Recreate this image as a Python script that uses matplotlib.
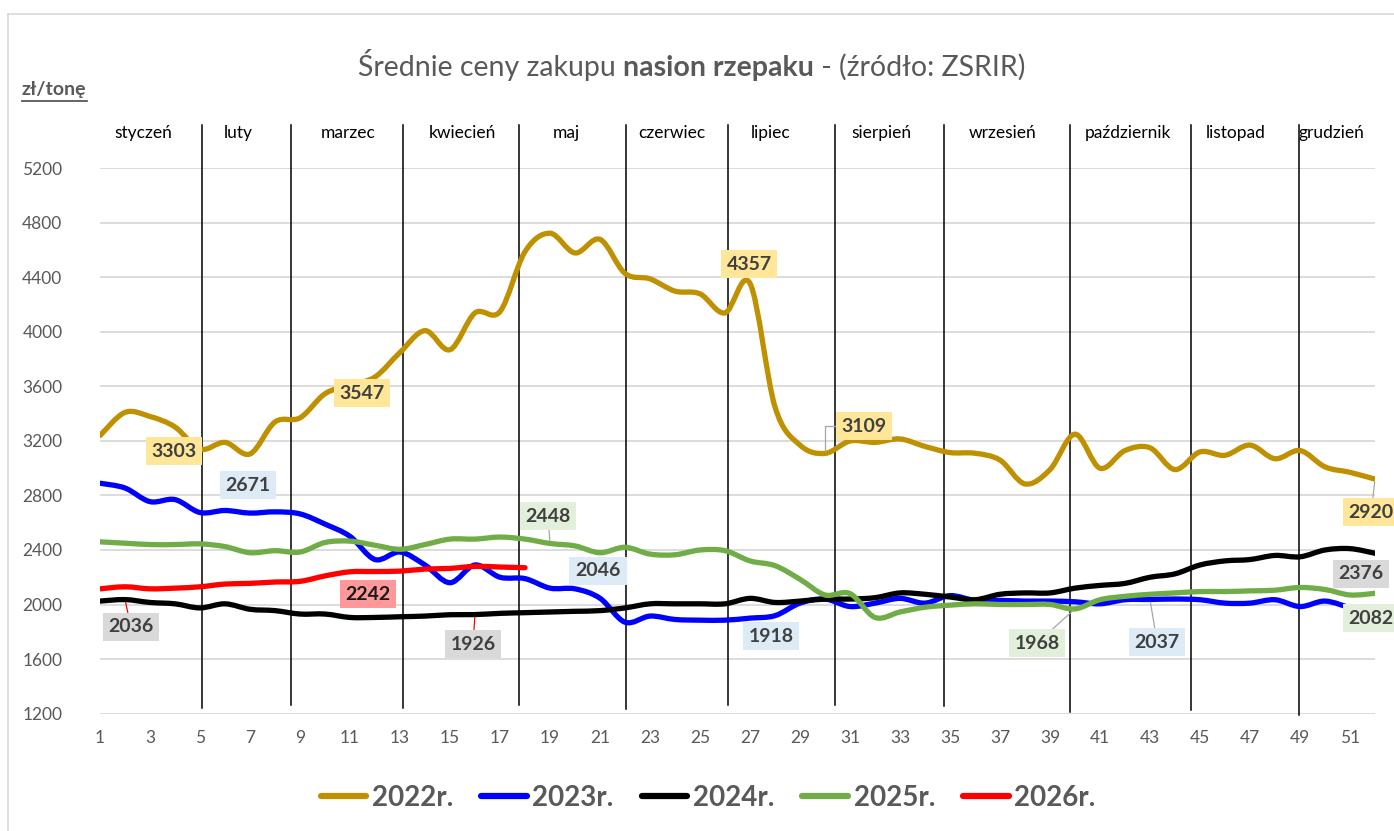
import numpy as np
import matplotlib
matplotlib.use("Agg")
import matplotlib.pyplot as plt
from matplotlib.path import Path
from matplotlib.patches import PathPatch
from matplotlib.lines import Line2D

plt.rcParams['font.family'] = ['Lato', 'DejaVu Sans']

# average weekly purchase prices, zl/t
y2022 = [3240, 3410, 3380, 3303, 3140, 3190, 3105, 3340, 3370, 3547,
         3610, 3670, 3850, 4010, 3870, 4140, 4150, 4590, 4725, 4580,
         4680, 4430, 4390, 4300, 4280, 4140, 4357, 3450, 3170, 3109,
         3200, 3190, 3215, 3160, 3115, 3110, 3060, 2885, 2990, 3250,
         3000, 3130, 3150, 2990, 3120, 3095, 3170, 3070, 3130, 3010,
         2970, 2920]
y2023 = [2890, 2855, 2755, 2770, 2675, 2690, 2671, 2680, 2665, 2590,
         2500, 2330, 2385, 2290, 2160, 2290, 2200, 2190, 2120, 2115,
         2046, 1870, 1915, 1890, 1885, 1885, 1900, 1918, 2010, 2040,
         1985, 2010, 2045, 2010, 2065, 2030, 2030, 2025, 2025, 2020,
         2005, 2035, 2037, 2040, 2035, 2010, 2010, 2035, 1985, 2025,
         1975]
y2024 = [2025, 2036, 2015, 2005, 1975, 2005, 1965, 1955, 1930, 1930,
         1905, 1905, 1910, 1915, 1925, 1926, 1935, 1940, 1945, 1950,
         1955, 1975, 2005, 2005, 2005, 2005, 2045, 2015, 2025, 2040,
         2040, 2050, 2085, 2075, 2055, 2035, 2075, 2085, 2085, 2120,
         2140, 2155, 2200, 2225, 2290, 2320, 2330, 2360, 2350, 2400,
         2410, 2376]
y2025 = [2460, 2450, 2440, 2440, 2445, 2425, 2380, 2395, 2385, 2455,
         2465, 2435, 2405, 2440, 2480, 2480, 2495, 2480, 2448, 2430,
         2380, 2420, 2370, 2365, 2400, 2395, 2320, 2285, 2185, 2070,
         2080, 1905, 1945, 1980, 1995, 2005, 2000, 2000, 2000, 1968,
         2035, 2060, 2075, 2085, 2095, 2095, 2100, 2105, 2125, 2110,
         2070, 2082]
y2026 = [2115, 2130, 2115, 2120, 2130, 2150, 2155, 2165, 2170, 2210,
         2240, 2242, 2245, 2260, 2265, 2280, 2275, 2270]

series_names = ["2022r.", "2023r.", "2024r.", "2025r.", "2026r."]
series_values = [y2022, y2023, y2024, y2025, y2026]
series_colors = ["#BF9000", "#0000FF", "#000000", "#70AD47", "#FF0000"]

month_names = ["styczeń", "luty", "marzec", "kwiecień", "maj", "czerwiec",
               "lipiec", "sierpień", "wrzesień", "październik", "listopad",
               "grudzień"]
month_text_x = [2.72, 6.52, 10.92, 15.48, 19.64, 23.88, 27.84, 32.24,
                37.12, 42.12, 46.44, 50.24]
month_line_x = [5.08, 8.64, 13.1, 17.76, 22.04, 26.12, 30.38, 34.74,
                39.8, 44.64, 48.95]
month_line_bottom = [1240, 1260, 1240, 1260, 1235, 1260, 1260, 1255,
                     1210, 1225, 1190]

# (series index, week of point, label x, label y, box colour, leader)
point_labels = [
    (0, 4, 3.96, 3126, "#FFE699", None),
    (0, 10, 11.48, 3552, "#FFE699", None),
    (0, 27, 26.96, 4499, "#FFE699", None),
    (0, 30, 31.56, 3310, "#FFE699", "elbow"),
    (0, 52, 51.85, 2678, "#FFE699", "#A6A6A6"),
    (1, 7, 6.92, 2877, "#DDEBF7", None),
    (1, 21, 20.92, 2246, "#DDEBF7", None),
    (1, 28, 27.84, 1768, "#DDEBF7", None),
    (1, 43, 43.28, 1724, "#DDEBF7", "#A6A6A6"),
    (2, 2, 2.24, 1835, "#D9D9D9", "#FF0000"),
    (2, 16, 15.92, 1710, "#D9D9D9", "#FF0000"),
    (2, 52, 51.44, 2224, "#D9D9D9", None),
    (3, 19, 18.92, 2649, "#E2EFDA", "#A6A6A6"),
    (3, 40, 38.48, 1717, "#E2EFDA", "#A6A6A6"),
    (3, 52, 51.85, 1900, "#E2EFDA", None),
    (4, 12, 11.72, 2076, "#FF9999", None),
]


def smooth_path(x, y):
    pts = np.column_stack([x, y]).astype(float)
    ext = np.vstack([pts[0], pts, pts[-1]])
    verts = [pts[0]]
    codes = [Path.MOVETO]
    for i in range(len(pts) - 1):
        p0, p1, p2, p3 = ext[i], ext[i + 1], ext[i + 2], ext[i + 3]
        verts += [p1 + (p2 - p0) / 6, p2 - (p3 - p1) / 6, p2]
        codes += [Path.CURVE4] * 3
    return Path(verts, codes)


fig = plt.figure(figsize=(13.94, 8.31), dpi=100)
ax = fig.add_axes([100 / 1394, 1 - 713.5 / 831, 1275 / 1394, 545 / 831])

ax.set_xlim(1, 52)
ax.set_ylim(1200, 5200)
ax.set_yticks(np.arange(1200, 5201, 400))
ax.set_xticks(np.arange(1, 52, 2))
ax.grid(axis='y', color='#D9D9D9', lw=1.3)
ax.set_axisbelow(True)
for s in ax.spines.values():
    s.set_visible(False)
ax.tick_params(axis='y', length=0, pad=27, labelsize=12.5, labelcolor='#595959')
ax.tick_params(axis='x', length=0, pad=12, labelsize=12.5, labelcolor='#595959')

# month separators and names
for xm, yb in zip(month_line_x, month_line_bottom):
    ax.plot([xm, xm], [yb, 5519], color='black', lw=1.1, clip_on=False, zorder=2)
for name, xm in zip(month_names, month_text_x):
    ax.text(xm, 5460, name, ha='center', va='center', fontsize=12.5,
            color='black', clip_on=False)

handles = []
for name, vals, col in zip(series_names, series_values, series_colors):
    wk = np.arange(1, len(vals) + 1)
    patch = PathPatch(smooth_path(wk, vals), fill=False, edgecolor=col,
                      lw=3.8, capstyle='round', joinstyle='round', zorder=3)
    ax.add_patch(patch)
    handles.append(Line2D([], [], color=col, lw=4.5, solid_capstyle='round'))

for si, wk, lx, ly, fc, leader in point_labels:
    val = series_values[si][wk - 1]
    tcol = '#1a1a1a' if si == 4 else '#404040'
    kw = dict(ha='center', va='center', fontsize=14, fontweight='bold',
              color=tcol, zorder=5, annotation_clip=False,
              bbox=dict(boxstyle='square,pad=0.3', fc=fc, ec='none'))
    if leader is None:
        ax.annotate(str(val), xy=(lx, ly), **kw)
    elif leader == "elbow":
        ax.annotate(str(val), xy=(wk, val), xytext=(lx, ly),
                    arrowprops=dict(arrowstyle='-', color='#A6A6A6', lw=0.9,
                                    shrinkA=0, shrinkB=2,
                                    connectionstyle='angle,angleA=0,angleB=90,rad=0'),
                    **kw)
    else:
        ax.annotate(str(val), xy=(wk, val), xytext=(lx, ly),
                    arrowprops=dict(arrowstyle='-', color=leader, lw=0.9,
                                    shrinkA=0, shrinkB=2), **kw)

# title in three parts (middle in bold)
t1 = fig.text(358 / 1394, 1 - 81 / 831, "Średnie ceny zakupu ", fontsize=20.5,
              color='#595959', ha='left', va='bottom')
t2 = fig.text(0, 0, "nasion rzepaku", fontsize=20.5, fontweight='bold',
              color='#595959', ha='left', va='bottom')
t3 = fig.text(0, 0, " - (źródło: ZSRIR)", fontsize=20.5,
              color='#595959', ha='left', va='bottom')
fig.canvas.draw()
r = fig.canvas.get_renderer()
b1 = t1.get_window_extent(r)
t2.set_position((b1.x1 / fig.bbox.width, b1.y0 / fig.bbox.height))
b2 = t2.get_window_extent(r)
t3.set_position((b2.x1 / fig.bbox.width, b2.y0 / fig.bbox.height))

# unit label, underlined
yl = fig.text(22 / 1394, 1 - 89 / 831, "zł/tonę", fontsize=14, fontweight='bold',
              color='#595959', ha='left', va='center')
fig.canvas.draw()
bl = yl.get_window_extent(fig.canvas.get_renderer())
fig.add_artist(Line2D([bl.x0 / fig.bbox.width, bl.x1 / fig.bbox.width],
                      [1 - 101 / 831, 1 - 101 / 831], color='#595959', lw=1.3))

# chart area border
fig.add_artist(Line2D([8 / 1394, 8 / 1394], [0, 1 - 14 / 831], color='#D9D9D9', lw=1.2))
fig.add_artist(Line2D([8 / 1394, 1], [1 - 14 / 831, 1 - 14 / 831], color='#D9D9D9', lw=1.2))

fig.legend(handles, series_names, loc='center', bbox_to_anchor=(0.508, 0.04),
           ncol=5, frameon=False, handlelength=1.65, handletextpad=0.2,
           columnspacing=1.0, prop=dict(size=20, weight='bold'),
           labelcolor='#595959')

fig.savefig('out.png', dpi=100)
